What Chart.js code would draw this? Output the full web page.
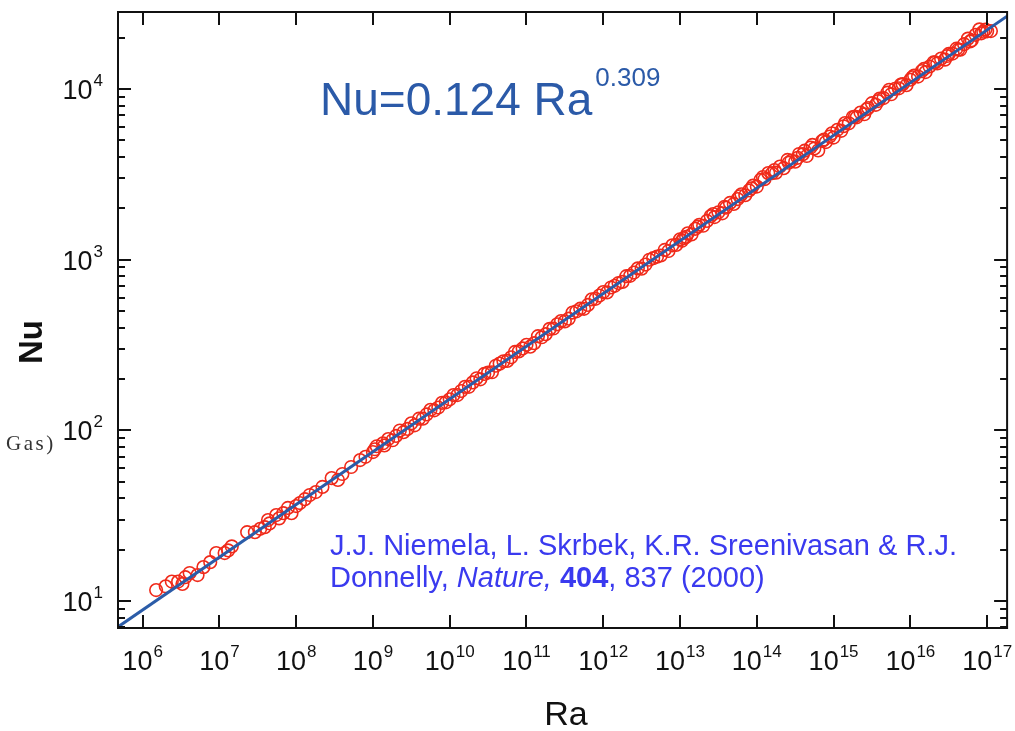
<!DOCTYPE html>
<html>
<head>
<meta charset="utf-8">
<script src="https://cdn.jsdelivr.net/npm/chart.js@4.4.1/dist/chart.umd.min.js"></script>
<style>
  html, body { margin: 0; padding: 0; background: #ffffff; }
  #wrap { width: 1015px; height: 731px; position: relative; }
</style>
</head>
<body>
<div id="wrap"><canvas id="c" width="1015" height="731"></canvas></div>
<script>
// ---- Data ----
const raData = [
  1.5e6, 2.0e6, 2.4e6, 2.9e6, 3.3e6, 4.1e6, 5.2e6, 6.2e6, 7.6e6, 9.1e6,
  1.17e7, 1.45e7, 2.3e7, 2.9e7, 3.9e7, 4.3e7, 4.5e7, 5.5e7, 6.0e7, 6.8e7,
  7.8e7, 8.7e7, 1.0e8, 1.12e8, 1.5e8, 2.2e8, 2.9e8, 3.5e8, 4.0e8, 5.2e8,
  6.8e8, 8.0e8, 1.0e9, 1.12e9, 1.35e9, 1.41e9, 1.58e9, 2.0e9, 2.24e9, 2.82e9,
  3.16e9, 3.98e9, 4.47e9, 5.62e9, 6.31e9, 7.94e9, 8.91e9, 1.12e10, 1.26e10, 1.58e10,
  1.78e10, 2.24e10, 2.51e10, 2.82e10, 3.55e10, 3.98e10, 5.01e10, 5.62e10, 7.08e10, 7.94e10,
  1.0e11, 1.12e11, 1.26e11, 1.41e11, 1.58e11, 2.0e11, 2.24e11, 2.82e11, 3.16e11, 3.98e11,
  5.01e11, 5.62e11, 6.31e11, 7.08e11, 7.94e11, 1.0e12, 1.12e12, 1.26e12, 1.58e12, 1.78e12,
  2.0e12, 2.24e12, 2.82e12, 3.16e12, 3.55e12, 3.98e12, 5.01e12, 5.62e12, 6.31e12, 7.08e12,
  7.94e12, 8.91e12, 1.0e13, 1.12e13, 1.26e13, 1.41e13, 1.58e13, 1.78e13, 2.0e13, 2.24e13,
  2.51e13, 2.82e13, 3.16e13, 3.55e13, 3.98e13, 4.47e13, 5.01e13, 5.62e13, 6.31e13, 7.08e13,
  7.94e13, 8.91e13, 1.0e14, 1.12e14, 1.26e14, 1.41e14, 1.58e14, 1.78e14, 2.0e14, 2.24e14,
  2.51e14, 2.82e14, 3.16e14, 3.55e14, 3.98e14, 4.47e14, 5.01e14, 5.62e14, 6.31e14, 7.08e14,
  7.94e14, 8.91e14, 1.0e15, 1.12e15, 1.26e15, 1.41e15, 1.58e15, 1.78e15, 2.0e15, 2.24e15,
  2.51e15, 2.82e15, 3.16e15, 3.55e15, 3.98e15, 4.47e15, 5.01e15, 5.62e15, 6.31e15, 7.08e15,
  7.94e15, 8.91e15, 1.0e16, 1.12e16, 1.26e16, 1.41e16, 1.58e16, 1.78e16, 2.0e16, 2.24e16,
  2.51e16, 2.82e16, 3.16e16, 3.55e16, 3.98e16, 4.47e16, 5.01e16, 5.62e16, 6.31e16, 7.08e16,
  7.94e16, 8.91e16, 1.0e17, 1.12e17,
  3.6e6, 1.3e7, 3.4e7, 1.3e8, 1.8e8, 1.06e9, 1.8e9, 2.5e9, 3.5e9, 5.0e9,
  7.1e9, 1.0e10, 1.41e10, 2.0e10, 3.16e10, 4.47e10, 6.31e10, 8.91e10, 1.78e11, 2.51e11,
  3.55e11, 4.47e11, 8.91e11, 1.41e12, 2.51e12, 4.47e12, 1.06e13, 1.2e13, 1.7e13, 2.7e13,
  3.8e13, 6.0e13, 8.5e13, 1.2e14, 1.7e14, 2.6e14, 3.4e14, 4.2e14, 5.3e14, 7.5e14,
  9.5e14, 1.35e15, 1.9e15, 2.7e15, 3.8e15, 5.3e15, 7.5e15, 1.06e16, 1.5e16, 2.1e16,
  3.0e16, 4.2e16, 6.0e16, 8.4e16, 9.5e16
];
const nuData = [
  11.6, 12.2, 13.0, 13.0, 12.6, 14.6, 14.2, 15.8, 16.9, 19.1,
  19.1, 20.9, 25.3, 25.3, 27.1, 29.8, 28.5, 31.9, 30.5, 32.7,
  35.1, 32.7, 36.0, 37.5, 41.8, 46.6, 52.5, 51.2, 55.5, 61.0,
  67.0, 70.0, 74.6, 80.7, 84.0, 81.6, 88.9, 92.7, 99.8, 102,
  110, 117, 117, 132, 131, 145, 146, 161, 161, 180,
  180, 202, 199, 214, 219, 239, 254, 255, 288, 290,
  317, 309, 324, 356, 351, 393, 395, 437, 435, 490,
  516, 515, 543, 586, 590, 646, 643, 687, 730, 741,
  800, 804, 889, 886, 936, 999, 1041, 1058, 1140, 1124,
  1213, 1220, 1315, 1336, 1426, 1405, 1516, 1602, 1580, 1687,
  1799, 1776, 1896, 1869, 2016, 2149, 2121, 2266, 2415, 2385,
  2544, 2712, 2680, 2940, 2961, 3214, 3210, 3233, 3511, 3435,
  3840, 3800, 3752, 4159, 4149, 4049, 4541, 4484, 4365, 4957,
  4886, 5269, 5190, 5768, 5688, 6310, 6292, 6842, 6822, 7277,
  7111, 7739, 8253, 8074, 8779, 8842, 9515, 9315, 10027, 10094,
  10664, 10524, 11336, 11974, 11820, 12732, 12566, 13546, 14302, 14120,
  15065, 14860, 16037, 16130, 17219, 16974, 18309, 19722, 19272, 20769,
  22347, 21654, 21759, 21850,
  13.8, 19.8, 26.5, 39.5, 43.5, 77.5, 87.5, 97.5, 107, 124,
  136, 152, 170, 191, 218, 246, 268, 302, 366, 418,
  451, 498, 616, 703, 840, 1020, 1290, 1360, 1560, 1850,
  2040, 2350, 2620, 3050, 3350, 3700, 3950, 4350, 4700, 5050,
  5500, 6050, 6900, 7600, 8500, 9900, 10600, 11700, 13100, 14300,
  15600, 17000, 19000, 21200, 22300
];
// Fit line Nu = 0.124 Ra^0.309, endpoints at the frame edges
const fitRa = [4.78e5, 1.82e17];
const fitNu = [7.05, 26700];
// Axis extents and tick decades
const xMin = 4.78e5, xMax = 1.82e17;
const yMin = 6.95, yMax = 28250;
const xTickExponents = [6, 7, 8, 9, 10, 11, 12, 13, 14, 15, 16, 17];
const yTickExponents = [1, 2, 3, 4];
const yMinorMultipliers = [2, 3, 4, 5, 6, 7, 8, 9];

const pts = raData.map((r, i) => ({ x: r, y: nuData[i] }));
const fitPts = fitRa.map((r, i) => ({ x: r, y: fitNu[i] }));

const FONT = '"Liberation Sans", Arial, Helvetica, sans-serif';

function drawPow(ctx, base, exp, x, y, align, baseSize, expSize) {
  ctx.font = baseSize + 'px ' + FONT;
  const wb = ctx.measureText(base).width;
  ctx.font = expSize + 'px ' + FONT;
  const we = ctx.measureText(exp).width;
  const total = wb + we + 1;
  let x0 = x;
  if (align === 'center') x0 = x - total / 2;
  else if (align === 'right') x0 = x - total;
  ctx.textAlign = 'left';
  ctx.textBaseline = 'alphabetic';
  ctx.font = baseSize + 'px ' + FONT;
  ctx.fillText(base, x0, y);
  ctx.font = expSize + 'px ' + FONT;
  ctx.fillText(exp, x0 + wb + 1, y - Math.round(baseSize * 0.47));
}

const decor = {
  id: 'decor',
  afterDatasetsDraw(chart) {
    const ctx = chart.ctx;
    const a = chart.chartArea;
    const xs = chart.scales.x, ys = chart.scales.y;
    ctx.save();
    ctx.strokeStyle = '#111';
    ctx.lineWidth = 2;
    ctx.strokeRect(a.left, a.top, a.right - a.left, a.bottom - a.top);
    ctx.beginPath();
    xTickExponents.forEach(e => {
      const px = Math.round(xs.getPixelForValue(Math.pow(10, e)));
      ctx.moveTo(px, a.bottom); ctx.lineTo(px, a.bottom - 13);
      ctx.moveTo(px, a.top); ctx.lineTo(px, a.top + 13);
    });
    for (let e = 0; e <= 4; e++) {
      yMinorMultipliers.concat([1]).forEach(m => {
        const v = m * Math.pow(10, e);
        if (v < yMin || v > yMax) return;
        const py = Math.round(ys.getPixelForValue(v));
        const len = m === 1 ? 13 : 7;
        ctx.moveTo(a.left, py); ctx.lineTo(a.left + len, py);
        ctx.moveTo(a.right, py); ctx.lineTo(a.right - len, py);
      });
    }
    ctx.stroke();

    ctx.fillStyle = '#111';
    xTickExponents.forEach(e => {
      const px = xs.getPixelForValue(Math.pow(10, e));
      drawPow(ctx, '10', String(e), px, a.bottom + 42, 'center', 27, 17);
    });
    yTickExponents.forEach(e => {
      const py = ys.getPixelForValue(Math.pow(10, e));
      drawPow(ctx, '10', String(e), 103, py + 10, 'right', 27, 17);
    });

    ctx.fillStyle = '#111';
    ctx.font = '34px ' + FONT;
    ctx.textAlign = 'center';
    ctx.textBaseline = 'alphabetic';
    ctx.fillText('Ra', 566, 725);
    ctx.save();
    ctx.translate(42, 342);
    ctx.rotate(-Math.PI / 2);
    ctx.font = 'bold 33px ' + FONT;
    ctx.fillText('Nu', 0, 0);
    ctx.restore();

    ctx.fillStyle = '#333';
    ctx.font = '21px "Liberation Serif", "Times New Roman", serif';
    ctx.textAlign = 'left';
    let gx = 6;
    for (const ch of 'Gas)') {
      ctx.fillText(ch, gx, 450);
      gx += ctx.measureText(ch).width + 2.5;
    }

    ctx.fillStyle = '#2b5aa8';
    ctx.font = '46px ' + FONT;
    ctx.fillText('Nu=0.124 Ra', 320, 115);
    const we = ctx.measureText('Nu=0.124 Ra').width;
    ctx.font = '26px ' + FONT;
    ctx.fillText('0.309', 320 + we + 3, 86);

    ctx.fillStyle = '#3a3aef';
    ctx.font = '29px ' + FONT;
    ctx.fillText('J.J. Niemela, L. Skrbek, K.R. Sreenivasan & R.J.', 330, 555);
    let cx = 330;
    const parts = [
      ['Donnelly, ', ''],
      ['Nature,', 'italic '],
      [' ', ''],
      ['404', 'bold '],
      [', 837 (2000)', '']
    ];
    parts.forEach(([t, s]) => {
      ctx.font = s + '29px ' + FONT;
      ctx.fillText(t, cx, 587);
      cx += ctx.measureText(t).width;
    });
    ctx.restore();
  }
};

new Chart(document.getElementById('c'), {
  data: {
    datasets: [
      {
        type: 'line',
        data: fitPts,
        borderColor: '#2b5ca8',
        borderWidth: 3,
        pointRadius: 0,
        fill: false,
        order: 0
      },
      {
        type: 'scatter',
        data: pts,
        pointStyle: 'circle',
        pointRadius: 6.3,
        pointBorderWidth: 1.6,
        borderColor: '#f02a1a',
        backgroundColor: 'rgba(0,0,0,0)',
        pointBackgroundColor: 'rgba(0,0,0,0)',
        order: 1
      }
    ]
  },
  options: {
    responsive: false,
    animation: false,
    layout: { padding: { left: 118, right: 7, top: 12, bottom: 103 } },
    plugins: { legend: { display: false }, tooltip: { enabled: false } },
    scales: {
      x: { type: 'logarithmic', min: xMin, max: xMax, display: false },
      y: { type: 'logarithmic', min: yMin, max: yMax, display: false }
    }
  },
  plugins: [decor]
});
</script>
</body>
</html>
